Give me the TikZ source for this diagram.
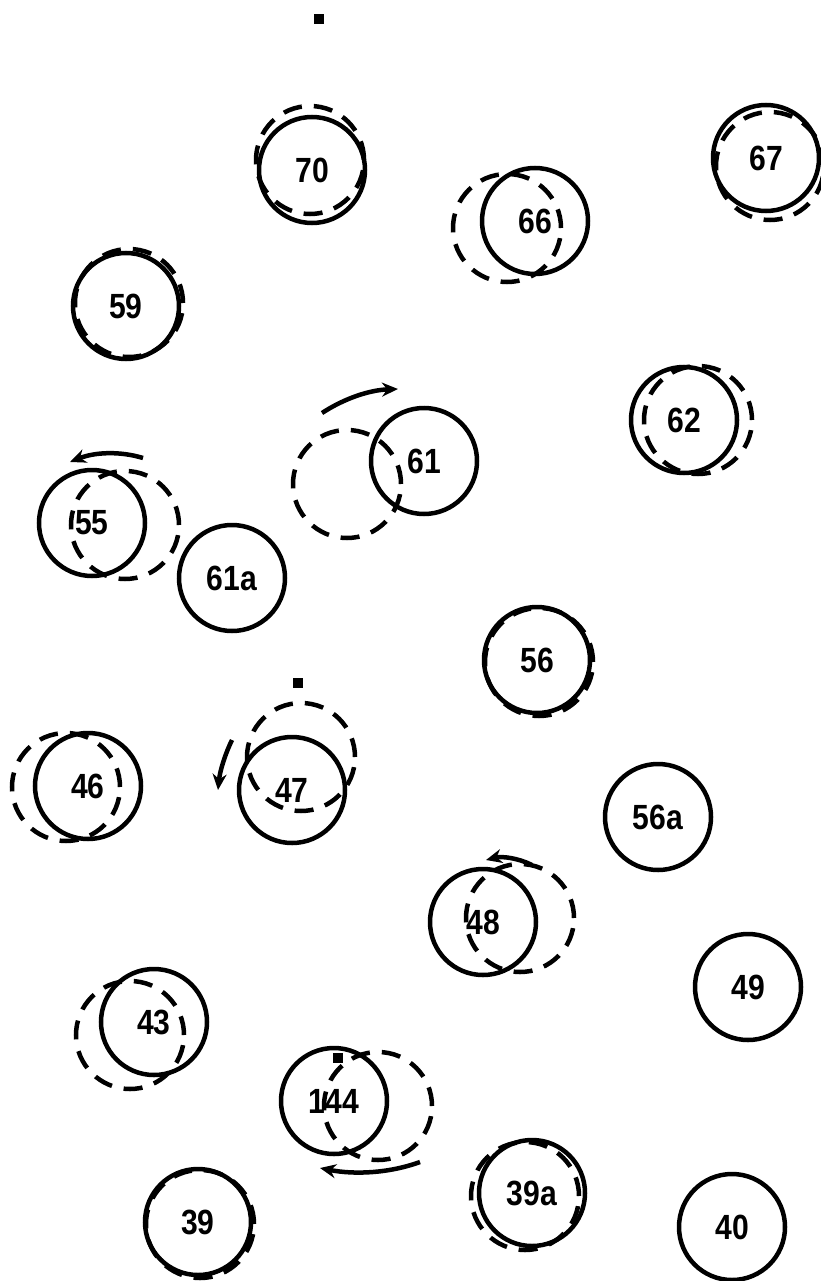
\documentclass[tikz,border=0pt]{standalone}
\usepackage{fontspec}
\setmainfont{Liberation Sans}[FakeStretch=0.86]
\usetikzlibrary{arrows.meta}
\tikzset{
  ring/.style={circle, draw, line width=4.5pt, minimum size=106pt, inner sep=0pt, font=\fontsize{35}{35}\selectfont\bfseries},
  ghost/.style={circle, draw, line width=4.5pt, minimum size=108pt, inner sep=0pt, dash pattern=on 19pt off 12pt},
  turn/.style={line width=4.5pt, -{Stealth[length=16pt,width=14pt]}},
  pin/.style={fill, minimum size=10pt, inner sep=0pt}
}
\begin{document}
\begin{tikzpicture}[x=1pt,y=-1pt]
\useasboundingbox (0,0) rectangle (821,1281);
% dashed (previous) positions
\node[ghost] (d70) at (310,160) {};
\node[ghost] (d66) at (507,228) {};
\node[ghost] (d67) at (770,166) {};
\node[ghost] (d59) at (129,303) {};
\node[ghost] (d62) at (698,420) {};
\node[ghost] (d61) at (347,484) {};
\node[ghost] (d55) at (125,525) {};
\node[ghost] (d56) at (539,662) {};
\node[ghost] (d47) at (301,757) {};
\node[ghost] (d46) at (66,787) {};
\node[ghost] (d48) at (520,918) {};
\node[ghost] (d43) at (130,1035) {};
\node[ghost] (d144) at (378,1106) {};
\node[ghost] (d39) at (200,1224) {};
\node[ghost] (d39a) at (525,1196) {};
% solid (current) positions
\node[ring] (n70) at (312,170) {70};
\node[ring] (n66) at (535,221) {66};
\node[ring] (n67) at (766,158) {67};
\node[ring] (n59) at (126,306) {59};
\node[ring] (n62) at (684,420) {62};
\node[ring] (n61) at (424,461) {61};
\node[ring] (n55) at (92,523) {55};
\node[ring] (n61a) at (232,578) {61a};
\node[ring] (n56) at (537,660) {56};
\node[ring] (n47) at (292,790) {47};
\node[ring] (n46) at (88,786) {46};
\node[ring] (n56a) at (658,817) {56a};
\node[ring] (n48) at (483,922) {48};
\node[ring] (n49) at (748,987) {49};
\node[ring] (n43) at (154,1022) {43};
\node[ring] (n144) at (334,1101) {144};
\node[ring] (n39) at (198,1222) {39};
\node[ring] (n39a) at (532,1193) {39a};
\node[ring] (n40) at (732,1227) {40};
% marker dots
\node[pin] (p1) at (319,19) {};
\node[pin] (p2) at (298,683) {};
\node[pin] (p3) at (338,1058) {};
% rotation arrows
\coordinate (a61s) at (322,413);
\coordinate (a61e) at (398,389);
\draw[turn] (a61s) .. controls (345,398) and (370,390) .. (a61e);
\coordinate (a55s) at (143,458);
\coordinate (a55e) at (70,462);
\draw[turn] (a55s) .. controls (120,451) and (95,452) .. (a55e);
\coordinate (a47s) at (232,740);
\coordinate (a47e) at (218,790);
\draw[turn] (a47s) .. controls (226,752) and (220,770) .. (a47e);
\coordinate (a48s) at (532,865);
\coordinate (a48e) at (486,860);
\draw[turn] (a48s) .. controls (518,858) and (502,856) .. (a48e);
\coordinate (a144s) at (420,1162);
\coordinate (a144e) at (320,1168);
\draw[turn] (a144s) .. controls (390,1173) and (355,1175) .. (a144e);
\end{tikzpicture}
\end{document}
